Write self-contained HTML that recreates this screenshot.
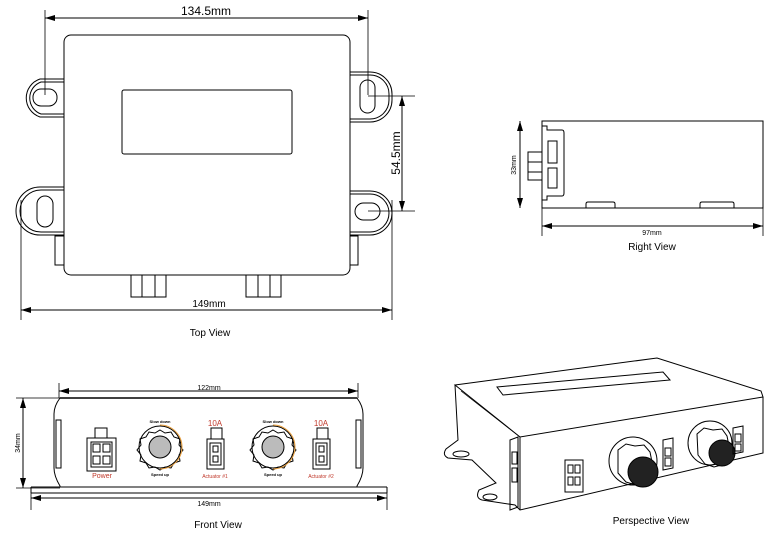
<!DOCTYPE html>
<html><head><meta charset="utf-8"><style>
html,body{margin:0;padding:0;background:#fff;}
svg{display:block;font-family:"Liberation Sans",sans-serif;}
</style></head><body>
<svg width="779" height="533" viewBox="0 0 779 533" xmlns="http://www.w3.org/2000/svg">
<defs>
<marker id="a" viewBox="0 0 10 6" refX="10" refY="3" markerWidth="10" markerHeight="6" orient="auto-start-reverse" markerUnits="userSpaceOnUse"><path d="M0,0L10,3L0,6z" fill="#000"/></marker>
</defs>
<g fill="none" stroke="#000" stroke-width="1">
<!-- TOP VIEW -->
<path d="M64,79 H40 a20,20 0 0 0 0,38 H64" fill="#fff"/>
<path d="M64,82 H41 a17,17 0 0 0 0,32 H64"/>
<rect x="33" y="89" width="24" height="17" rx="8"/>
<path d="M64,187 H40 a22,22 0 0 0 0,48 H64" fill="#fff"/>
<path d="M64,190 H41 a19,19 0 0 0 0,42 H64"/>
<rect x="37" y="196" width="16" height="31" rx="8"/>
<path d="M350,72 H370 a22,22 0 0 1 22,22 v6 a22,22 0 0 1 -22,22 H350" fill="#fff"/>
<path d="M350,75 H370 a19,19 0 0 1 19,19 v6 a19,19 0 0 1 -19,19 H350"/>
<rect x="360" y="80" width="15" height="33" rx="7.5"/>
<path d="M350,191 H370 a22,22 0 0 1 22,22 a22,22 0 0 1 -22,22 H350" fill="#fff"/>
<path d="M350,194 H370 a19,19 0 0 1 19,19 a19,19 0 0 1 -19,19 H350"/>
<rect x="355" y="203" width="25" height="17" rx="8.5"/>
<rect x="55" y="236" width="9" height="29"/>
<rect x="350" y="236" width="8" height="29"/>
<rect x="64" y="35" width="286" height="240" rx="7" fill="#fff"/>
<rect x="122" y="90" width="170" height="64" rx="2"/>
<rect x="131" y="275" width="35" height="22"/><path d="M142,275v22M155,275v22"/>
<rect x="246" y="275" width="35" height="22"/><path d="M258,275v22M270,275v22"/>
<path d="M45,10V95M368,10V95M21,200V320M392,200V320M368,96H415M368,211H415" stroke-width="0.8"/>
<path d="M45,18H368" marker-start="url(#a)" marker-end="url(#a)"/>
<path d="M21,310H392" marker-start="url(#a)" marker-end="url(#a)"/>
<path d="M402,96V211" marker-start="url(#a)" marker-end="url(#a)"/>
<!-- RIGHT VIEW -->
<rect x="542" y="121" width="221" height="87"/>
<path d="M542,121v5h5v4h15q2,0 2,3v60q0,3 -2,3h-15v4h-5"/>
<rect x="548" y="141" width="9" height="22"/><rect x="548" y="168" width="9" height="20"/>
<rect x="528" y="152" width="14" height="28"/><path d="M528,162h14M528,172h14"/>
<path d="M586,208v-4q0,-2 2,-2h25q2,0 2,2v4M700,208v-4q0,-2 2,-2h30q2,0 2,2v4"/>
<path d="M542,208V236M763,208V236" stroke-width="0.8"/>
<path d="M520,121V208" marker-start="url(#a)" marker-end="url(#a)"/>
<path d="M542,226H763" marker-start="url(#a)" marker-end="url(#a)"/>
<!-- FRONT VIEW -->
<path d="M59,383V398M358,383V398" stroke-width="0.8"/>
<path d="M59,391H358" marker-start="url(#a)" marker-end="url(#a)"/>
<path d="M60,398q-6,8 -6,16v54q0,8 6,18v1M357,398q6,8 6,16v54q0,8 -6,18v1"/>
<path d="M60,398H357" stroke-width="1.5"/>
<path d="M31,487H387M31,493H387M31,487v6M387,487v6"/>
<rect x="56" y="420" width="5" height="48"/><rect x="356" y="420" width="5" height="48"/>
<path d="M16,398H60M16,488H60" stroke-width="0.8"/>
<path d="M23,398V488" marker-start="url(#a)" marker-end="url(#a)"/>
<path d="M31,492V510M387,492V510" stroke-width="0.8"/>
<path d="M31,498H387" marker-start="url(#a)" marker-end="url(#a)"/>
<rect x="95" y="428" width="12" height="10"/>
<rect x="87" y="438" width="29" height="33"/>
<rect x="91" y="442" width="21" height="25"/>
<rect x="93" y="444" width="7" height="8"/><rect x="103" y="444" width="7" height="8"/>
<rect x="93" y="456" width="7" height="8"/><rect x="103" y="456" width="7" height="8"/>
<circle cx="160" cy="447" r="21"/>
<path d="M160,430 l5,3 6,-1 3,5 6,2 -1,6 4,5 -4,5 1,6 -6,2 -3,5 -6,-1 -5,3 -5,-3 -6,1 -3,-5 -6,-2 1,-6 -4,-5 4,-5 -1,-6 6,-2 3,-5 6,1z"/>
<circle cx="160" cy="447" r="11" fill="#bbb"/>
<path d="M160,425 a22,22 0 0 1 0,44" stroke="#e8a040"/>
<rect x="211" y="428" width="11" height="11"/>
<rect x="207" y="439" width="17" height="30"/>
<rect x="210" y="443" width="11" height="22"/>
<rect x="213" y="446" width="5" height="6"/><rect x="213" y="456" width="5" height="6"/>
<circle cx="273" cy="447" r="21"/>
<path d="M273,430 l5,3 6,-1 3,5 6,2 -1,6 4,5 -4,5 1,6 -6,2 -3,5 -6,-1 -5,3 -5,-3 -6,1 -3,-5 -6,-2 1,-6 -4,-5 4,-5 -1,-6 6,-2 3,-5 6,1z"/>
<circle cx="273" cy="447" r="11" fill="#bbb"/>
<path d="M273,425 a22,22 0 0 1 0,44" stroke="#e8a040"/>
<rect x="317" y="428" width="11" height="11"/>
<rect x="313" y="439" width="17" height="30"/>
<rect x="316" y="443" width="11" height="22"/>
<rect x="319" y="446" width="5" height="6"/><rect x="319" y="456" width="5" height="6"/>
<!-- PERSPECTIVE -->
<path d="M455,385 L657,358 L761,391 L763,397 L520,437 Z" fill="#fff"/>
<path d="M497,387 L663,372 L670,380 L503,395 Z"/>
<path d="M455,385 L458,440 L446,449 q-4,6 2,9 L472,460 L496,483 L479,490 q-4,8 3,10 L515,505 L520,510 L763,453 L763,397"/>
<path d="M520,437 L520,510"/>
<path d="M461,391 L520,437" stroke-width="0.7"/>
<ellipse cx="461" cy="454" rx="8" ry="3"/>
<ellipse cx="490" cy="497" rx="7" ry="3"/>
<path d="M510,440 l8,-3 v70 l-8,3z"/>
<rect x="512" y="452" width="5" height="12"/><rect x="512" y="468" width="5" height="14"/>
<rect x="565" y="460" width="18" height="32"/>
<rect x="568" y="465" width="5" height="8"/><rect x="575" y="465" width="5" height="8"/>
<rect x="568" y="477" width="5" height="8"/><rect x="575" y="477" width="5" height="8"/>
<circle cx="633" cy="461" r="24"/>
<path d="M618,450 l8,-6 9,2 9,-1 6,7 2,10 4,10 -8,10 -12,3 -10,-3 -8,-9 z"/>
<circle cx="643" cy="472" r="15" fill="#222"/>
<path d="M663,440 l10,-2 v30 l-10,2z"/><rect x="665" y="448" width="6" height="8"/><rect x="665" y="458" width="6" height="8"/>
<circle cx="710" cy="443" r="22"/>
<path d="M697,434 l7,-6 9,2 9,-1 5,7 2,10 3,9 -7,9 -11,3 -9,-3 -7,-9 z"/>
<circle cx="722" cy="453" r="13" fill="#222"/>
<path d="M733,428 l10,-2 v26 l-10,2z"/><rect x="735" y="434" width="6" height="8"/><rect x="735" y="444" width="6" height="7"/>
</g>
<g fill="#000">
<text x="206" y="15" font-size="12" text-anchor="middle">134.5mm</text>
<text x="209" y="307" font-size="10" text-anchor="middle">149mm</text>
<text x="210" y="336" font-size="10" text-anchor="middle">Top View</text>
<text x="400" y="153" font-size="12" text-anchor="middle" transform="rotate(-90 400 153)">54.5mm</text>
<text x="516" y="165" font-size="7" text-anchor="middle" transform="rotate(-90 516 165)">33mm</text>
<text x="652" y="235" font-size="7" text-anchor="middle">97mm</text>
<text x="652" y="250" font-size="10" text-anchor="middle">Right View</text>
<text x="209" y="390" font-size="7" text-anchor="middle">122mm</text>
<text x="20" y="443" font-size="7" text-anchor="middle" transform="rotate(-90 20 443)">34mm</text>
<text x="209" y="506" font-size="7" text-anchor="middle">149mm</text>
<text x="218" y="528" font-size="10" text-anchor="middle">Front View</text>
<text x="651" y="524" font-size="10" text-anchor="middle">Perspective View</text>
<text x="160" y="423" font-size="4" text-anchor="middle" font-weight="bold">Slow down</text>
<text x="160" y="476" font-size="4" text-anchor="middle" font-weight="bold">Speed up</text>
<text x="273" y="423" font-size="4" text-anchor="middle" font-weight="bold">Slow down</text>
<text x="273" y="476" font-size="4" text-anchor="middle" font-weight="bold">Speed up</text>
</g>
<g fill="#c0392b">
<text x="102" y="478" font-size="7" text-anchor="middle">Power</text>
<text x="215" y="426" font-size="8" text-anchor="middle">10A</text>
<text x="215" y="478" font-size="5" text-anchor="middle">Actuator #1</text>
<text x="321" y="426" font-size="8" text-anchor="middle">10A</text>
<text x="321" y="478" font-size="5" text-anchor="middle">Actuator #2</text>
</g>
</svg>
</body></html>
